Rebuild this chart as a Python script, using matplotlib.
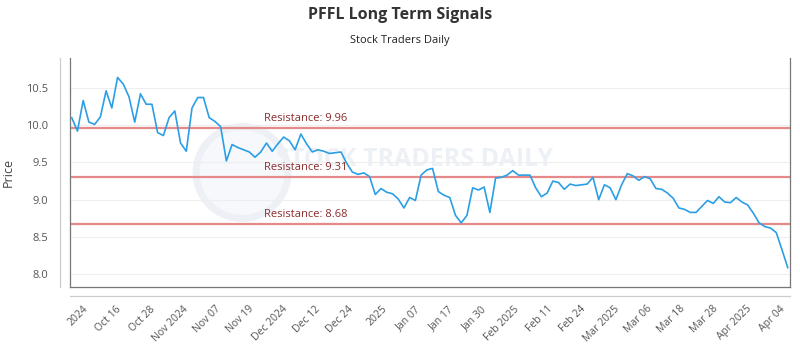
import matplotlib
matplotlib.use("Agg")
import matplotlib.pyplot as plt
from matplotlib.patches import Ellipse
from matplotlib.lines import Line2D

plt.rcParams['font.family'] = ['Open Sans', 'DejaVu Sans']

title = "PFFL Long Term Signals"
subtitle = "Stock Traders Daily"

prices = [
    10.10, 9.92, 10.33, 10.04, 10.01, 10.11, 10.46, 10.23, 10.64, 10.55,
    10.38, 10.04, 10.42, 10.28, 10.28, 9.90, 9.86, 10.10, 10.19, 9.76,
    9.65, 10.23, 10.37, 10.37, 10.10, 10.05, 9.98, 9.52, 9.74, 9.70,
    9.67, 9.64, 9.57, 9.64, 9.76, 9.65, 9.75, 9.84, 9.79, 9.67,
    9.88, 9.75, 9.64, 9.67, 9.65, 9.62, 9.63, 9.64, 9.49, 9.37,
    9.34, 9.36, 9.31, 9.07, 9.15, 9.10, 9.08, 9.01, 8.89, 9.03,
    8.99, 9.33, 9.40, 9.42, 9.11, 9.06, 9.03, 8.79, 8.69, 8.79,
    9.16, 9.13, 9.17, 8.83, 9.29, 9.30, 9.33, 9.39, 9.33, 9.33,
    9.33, 9.16, 9.04, 9.09, 9.25, 9.23, 9.14, 9.21, 9.19, 9.20,
    9.21, 9.30, 9.00, 9.20, 9.16, 9.00, 9.20, 9.35, 9.32, 9.26,
    9.31, 9.28, 9.15, 9.14, 9.09, 9.02, 8.89, 8.87, 8.83, 8.83,
    8.91, 8.99, 8.95, 9.04, 8.97, 8.96, 9.03, 8.97, 8.93, 8.82,
    8.69, 8.64, 8.62, 8.56, 8.33, 8.09,
]

resistance = [9.96, 9.31, 8.68]

x_labels = ["2024", "Oct 16", "Oct 28", "Nov 2024", "Nov 07", "Nov 19",
            "Dec 2024", "Dec 12", "Dec 24", "2025", "Jan 07", "Jan 17",
            "Jan 30", "Feb 2025", "Feb 11", "Feb 24", "Mar 2025", "Mar 06",
            "Mar 18", "Mar 28", "Apr 2025", "Apr 04"]

y_ticks = [8.0, 8.5, 9.0, 9.5, 10.0, 10.5]

n = len(prices)
xs = list(range(n))

fig = plt.figure(figsize=(8, 3.5), dpi=100)
L, R, B, T = 70/800, 790/800, 1-287/350, 1-58/350
ax = fig.add_axes([L, B, R-L, T-B])

ax.set_xlim(-0.3, n - 1 + 0.4)
ax.set_ylim(7.83, 10.9)

# watermark
wm_col = "#edf1f6"
ax.add_patch(Ellipse((0.239, 0.50), 92/720, 92/229, transform=ax.transAxes,
                     facecolor="#f6f8fb", edgecolor=wm_col, lw=5, zorder=0))
ax.text(0.479, 0.555, "STOCK TRADERS DAILY", transform=ax.transAxes,
        ha="center", va="center", fontsize=18, fontweight="bold",
        color=wm_col, zorder=0)

for yv in y_ticks:
    ax.axhline(yv, color="#eeeeee", lw=0.8, zorder=1)

for r in resistance:
    ax.axhline(r, color="#e58a8a", lw=1.6, zorder=2)
    ax.text(33.6, r + 0.05, f"Resistance: {r:.2f}", color="#8b2c2c",
            fontsize=8, ha="left", va="bottom", zorder=3)

ax.plot(xs, prices, color="#2b9fe6", lw=1.2, zorder=4)

ax.set_yticks(y_ticks)
ax.set_yticklabels([f"{v:.1f}" for v in y_ticks], color="#555555", fontsize=8)
first_tick, step = 3.3, 5.79
ax.set_xticks([first_tick + k*step for k in range(len(x_labels))])
ax.set_xticklabels(x_labels, rotation=45, ha="right", va="top",
                   color="#555555", fontsize=7.5)
ax.tick_params(axis="both", length=0)
ax.tick_params(axis="x", pad=12)
ax.tick_params(axis="y", pad=16)

for s in ["left", "right", "bottom"]:
    ax.spines[s].set_color("#777777")
    ax.spines[s].set_linewidth(0.9)
ax.spines["top"].set_visible(False)

# outer offset axis lines
fig.add_artist(Line2D([60/800, 60/800], [1-58/350, 1-287/350],
                      transform=fig.transFigure, color="#cccccc", lw=0.9))
fig.add_artist(Line2D([70/800, 790/800], [1-296/350, 1-296/350],
                      transform=fig.transFigure, color="#cccccc", lw=0.9))

ax.set_ylabel("Price", color="#444444", fontsize=9, labelpad=8)

fig.text(0.5, 1-15/350, title, ha="center", va="center", fontsize=11.5,
         fontweight="bold", color="#333333")
fig.text(0.5, 1-41/350, subtitle, ha="center", va="center", fontsize=8,
         color="#222222")

fig.savefig("out.png", dpi=100)
